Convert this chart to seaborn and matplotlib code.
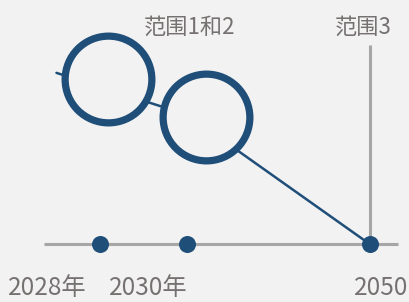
import numpy as np
import matplotlib
matplotlib.use('Agg')
import matplotlib.pyplot as plt
import seaborn as sns
import pandas as pd

# posições na linha do tempo (unidades do eixo x)
anos_x = [1, 2, 4.1]
anos_rotulo = ['2028年', '2030年', '2050']
rotulo_x = [0.40, 1.56, 4.23]

# trajetória
traj_x = [0.5, 2, 4.1]
traj_y = [86, 65, 0]

# círculos (metas)
circ_x = [1.09, 2.22]
circ_y = [83, 64]

# rótulos de escopo
escopo = ['范围1和2', '范围3']
escopo_x = [2.03, 4.03]
escopo_y = [109, 109]

fundo = '#f2f2f2'
azul = '#1f4e79'
cinza = '#a6a6a6'
texto = '#767171'

sns.set_theme(style='white')
plt.rcParams['font.family'] = ['Noto Sans CJK SC', 'DejaVu Sans']

fig = plt.figure(figsize=(4.09, 3.02), dpi=100, facecolor=fundo)
ax = fig.add_axes([0, 0, 1, 1])
ax.set_facecolor(fundo)

# linha base e linha vertical do escopo 3
ax.plot([0.356, 4.425], [0, 0], color=cinza, lw=2.2, zorder=1, solid_capstyle='butt')
ax.plot([anos_x[2], anos_x[2]], [0, 100], color=cinza, lw=2.2, zorder=1, solid_capstyle='butt')

df_traj = pd.DataFrame({'x': traj_x, 'y': traj_y})
sns.lineplot(data=df_traj, x='x', y='y', color=azul, lw=1.8, ax=ax, zorder=2, sort=False)

df_circ = pd.DataFrame({'x': circ_x, 'y': circ_y})
sns.scatterplot(data=df_circ, x='x', y='y', s=3900, facecolor=fundo, edgecolor=azul,
                linewidth=5.2, ax=ax, zorder=3, legend=False)

df_anos = pd.DataFrame({'x': anos_x, 'y': [0, 0, 0]})
sns.scatterplot(data=df_anos, x='x', y='y', s=150, color=azul, edgecolor=azul,
                linewidth=0, ax=ax, zorder=4, legend=False)

for xx, lab in zip(rotulo_x, anos_rotulo):
    ax.text(xx, -22.0, lab, ha='center', va='center', fontsize=17.5, color=texto)

for xx, yy, lab in zip(escopo_x, escopo_y, escopo):
    ax.text(xx, yy, lab, ha='center', va='center', fontsize=16, color=texto)

ax.set_xlim(-0.149, 4.552)
ax.set_ylim(-29.1, 122.6)
ax.set_xlabel('')
ax.set_ylabel('')
ax.set_xticks([])
ax.set_yticks([])
for s in ax.spines.values():
    s.set_visible(False)

fig.savefig('out.png', dpi=100, facecolor=fundo)
